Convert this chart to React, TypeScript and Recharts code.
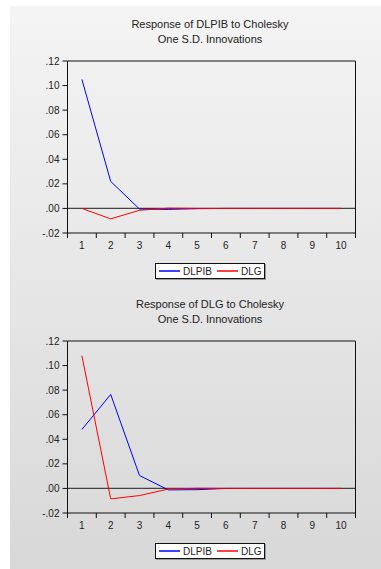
import React from "react";
import { LineChart, Line, XAxis, YAxis, ReferenceLine } from "recharts";

const periods = [1, 2, 3, 4, 5, 6, 7, 8, 9, 10];
const dlpibOnDlpib = [0.105, 0.022, -0.0005, -0.0008, -0.0002, 0, 0, 0, 0, 0];
const dlgOnDlpib = [0, -0.0085, -0.0015, 0.0002, 0, 0, 0, 0, 0, 0];
const dlpibOnDlg = [0.048, 0.0765, 0.0105, -0.0012, -0.001, 0, 0, 0, 0, 0];
const dlgOnDlg = [0.108, -0.0085, -0.0058, -0.0005, 0.0001, 0, 0, 0, 0, 0];
const yTicks = [-0.02, 0, 0.02, 0.04, 0.06, 0.08, 0.1, 0.12];
const xLabelTicks = periods;
const xMarkTicks = [0.5, 1.5, 2.5, 3.5, 4.5, 5.5, 6.5, 7.5, 8.5, 9.5, 10.5];
const seriesNames = ["DLPIB", "DLG"];
const seriesColors = ["#0000ff", "#ff0000"];

const fmt = (v: number) => v.toFixed(2).replace(/^(-?)0\./, "$1.");
const FONT = "'Liberation Sans', Arial, sans-serif";

function build(a: number[], b: number[]) {
  return periods.map((p, i) => ({ p, DLPIB: a[i], DLG: b[i] }));
}

const EmptyTick = () => <g />;

function Panel({ top, title, a, b }: { top: number; title: string; a: number[]; b: number[] }) {
  const data = build(a, b);
  const tickStyle = { fontSize: 10, fill: "#222", fontFamily: FONT };
  return (
    <div style={{ position: "absolute", left: 0, top, width: 371, height: 280 }}>
      <div
        style={{
          position: "absolute",
          left: 0,
          top: 11,
          width: 400,
          textAlign: "center",
          fontFamily: FONT,
          fontSize: 11,
          lineHeight: "15px",
          color: "#222",
        }}
      >
        <div>{title}</div>
        <div>One S.D. Innovations</div>
      </div>
      <div style={{ position: "absolute", left: 0, top: 0 }}>
        <LineChart width={371} height={250} data={data} margin={{ top: 54, right: 24.5, left: 7.5, bottom: 0 }}>
          <XAxis
            xAxisId="t"
            orientation="top"
            type="number"
            dataKey="p"
            domain={[0.5, 10.5]}
            height={1}
            tick={false}
            tickLine={false}
            axisLine={{ stroke: "#111" }}
          />
          <XAxis
            xAxisId="a"
            type="number"
            dataKey="p"
            domain={[0.5, 10.5]}
            ticks={xMarkTicks}
            height={1}
            tick={<EmptyTick />}
            tickSize={5}
            tickLine={{ stroke: "#111" }}
            axisLine={{ stroke: "#111" }}
            interval={0}
          />
          <XAxis
            xAxisId="b"
            type="number"
            dataKey="p"
            domain={[0.5, 10.5]}
            ticks={xLabelTicks}
            height={22}
            tickSize={0}
            tickMargin={8}
            tickLine={false}
            axisLine={false}
            tick={tickStyle}
            interval={0}
          />
          <YAxis
            yAxisId="l"
            type="number"
            domain={[-0.02, 0.12]}
            ticks={yTicks}
            tickFormatter={fmt}
            width={50}
            tickSize={5}
            tickMargin={3}
            tick={tickStyle}
            tickLine={{ stroke: "#111" }}
            axisLine={{ stroke: "#111" }}
            interval={0}
          />
          <YAxis
            yAxisId="r"
            orientation="right"
            type="number"
            domain={[0, 1]}
            width={1}
            tick={false}
            tickLine={false}
            axisLine={{ stroke: "#111" }}
          />
          <ReferenceLine xAxisId="b" yAxisId="l" y={0} stroke="#444" strokeWidth={1.3} />
          <Line
            xAxisId="b"
            yAxisId="l"
            type="linear"
            dataKey="DLPIB"
            stroke={seriesColors[0]}
            strokeWidth={1}
            dot={false}
            isAnimationActive={false}
          />
          <Line
            xAxisId="b"
            yAxisId="l"
            type="linear"
            dataKey="DLG"
            stroke={seriesColors[1]}
            strokeWidth={1}
            dot={false}
            isAnimationActive={false}
          />
        </LineChart>
      </div>
      <div
        style={{
          position: "absolute",
          left: 145,
          top: 257,
          width: 108,
          height: 14,
          background: "#fff",
          border: "1px solid #111",
          boxShadow: "1px 1px 0 #999",
          fontFamily: FONT,
          fontSize: 10,
          color: "#222",
        }}
      >
        {seriesNames.map((n, i) => (
          <div
            key={n}
            style={{
              position: "absolute",
              left: i === 0 ? 3 : 61,
              top: 0,
              height: 14,
              display: "flex",
              alignItems: "center",
            }}
          >
            <svg width={24} height={14} style={{ display: "block" }}>
              <line x1={0} x2={21} y1={7} y2={7} stroke={seriesColors[i]} strokeWidth={1.5} />
            </svg>
            <span>{n}</span>
          </div>
        ))}
      </div>
    </div>
  );
}

export default function App() {
  return (
    <div style={{ position: "absolute", left: 0, top: 0, width: 381, height: 569, background: "#fff" }}>
      <div
        style={{
          position: "absolute",
          left: 10,
          top: 6,
          width: 371,
          height: 563,
          background: "linear-gradient(#f4f4f4, #d8d8d8)",
        }}
      >
        <Panel top={0} title="Response of DLPIB to Cholesky" a={dlpibOnDlpib} b={dlgOnDlpib} />
        <Panel top={280} title="Response of DLG to Cholesky" a={dlpibOnDlg} b={dlgOnDlg} />
      </div>
    </div>
  );
}
